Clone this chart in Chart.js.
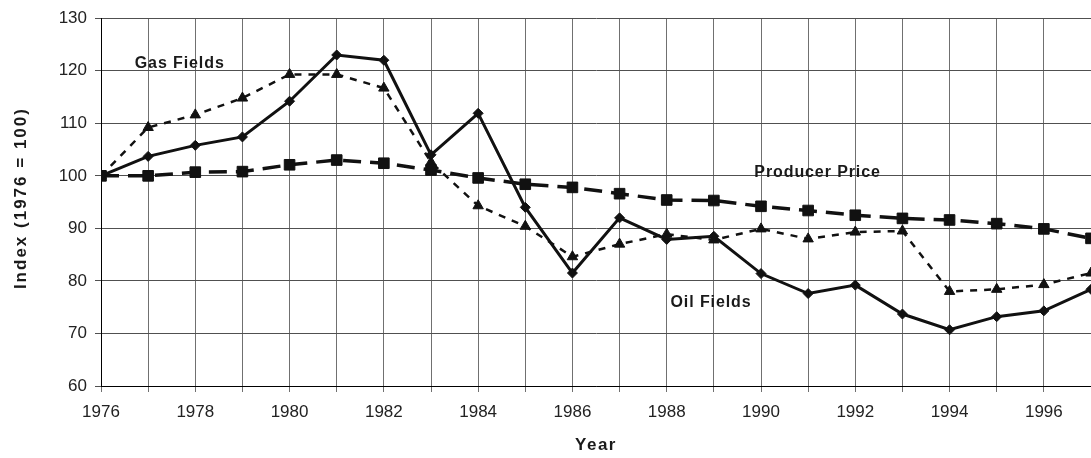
<!DOCTYPE html>
<html>
<head>
<meta charset="utf-8">
<script src="https://cdn.jsdelivr.net/npm/chart.js@4.4.1/dist/chart.umd.min.js"></script>
<style>
    html, body { margin: 0; padding: 0; background: #fff; }
    #wrap { width: 1091px; height: 458px; }
</style>
</head>
<body>
<div id="wrap"><canvas id="myChart" width="1091" height="458"></canvas></div>
<script>
// Datos
const years = [1976, 1977, 1978, 1979, 1980, 1981, 1982, 1983, 1984, 1985, 1986,
               1987, 1988, 1989, 1990, 1991, 1992, 1993, 1994, 1995, 1996, 1997];
const oilFields = [100, 103.7, 105.8, 107.4, 114.2, 123.0, 122.0, 104.0, 111.9, 94.0, 81.5,
                   92.0, 87.9, 88.5, 81.4, 77.6, 79.2, 73.7, 70.7, 73.2, 74.3, 78.4];
const gasFields = [100, 109.2, 111.6, 114.8, 119.3, 119.3, 116.7, 102.6, 94.3, 90.4, 84.6,
                   87.0, 88.9, 87.8, 89.9, 88.0, 89.3, 89.5, 78.0, 78.4, 79.3, 81.5];
const producerPrice = [100, 100, 100.7, 100.8, 102.1, 103.0, 102.4, 101.1, 99.6, 98.4, 97.8,
                       96.6, 95.4, 95.3, 94.2, 93.4, 92.5, 91.9, 91.6, 90.9, 89.9, 88.1];

// Etiquetas dentro del gráfico (texto, año, valor)
const labelTexts = ['Gas Fields', 'Producer Price', 'Oil Fields'];
const labelYears = [1977.67, 1991.2, 1988.94];
const labelValues = [121.4, 100.7, 75.8];

const xTitle = 'Year';
const yTitle = 'Index (1976 = 100)';

const FONT = "'Liberation Sans', Arial, sans-serif";

function toPoints(values) {
    return values.map((v, i) => ({ x: years[i], y: v }));
}

// Plugin para los nombres de las series y los títulos de los ejes
const seriesLabels = {
    id: 'seriesLabels',
    afterDraw(chart) {
        const ctx = chart.ctx;
        const xs = chart.scales.x, ys = chart.scales.y;
        const area = chart.chartArea;
        ctx.save();
        ctx.fillStyle = '#1a1a1a';
        ctx.textAlign = 'center';
        ctx.textBaseline = 'middle';
        ctx.font = 'bold 16px ' + FONT;
        ctx.letterSpacing = '0.9px';
        labelTexts.forEach((t, i) => {
            ctx.fillText(t, xs.getPixelForValue(labelYears[i]), ys.getPixelForValue(labelValues[i]));
        });

        // títulos de ejes
        ctx.font = 'bold 17px ' + FONT;
        ctx.letterSpacing = '1.5px';
        ctx.fillText(xTitle, (area.left + area.right) / 2, 445);
        ctx.letterSpacing = '2px';
        ctx.translate(21, (area.top + area.bottom) / 2 - 4);
        ctx.rotate(-Math.PI / 2);
        ctx.fillText(yTitle, 0, 0);
        ctx.restore();
    }
};

var ctx = document.getElementById('myChart').getContext('2d');
var myChart = new Chart(ctx, {
    type: 'line',
    data: {
        datasets: [{
            label: 'Oil Fields',
            data: toPoints(oilFields),
            borderColor: '#111',
            backgroundColor: '#111',
            borderWidth: 3,
            pointStyle: 'rectRot',
            pointRadius: 5,
            pointBorderWidth: 1,
            tension: 0,
            order: 0
        }, {
            label: 'Producer Price',
            data: toPoints(producerPrice),
            borderColor: '#111',
            backgroundColor: '#111',
            borderWidth: 3.5,
            borderDash: [18, 9],
            pointStyle: 'rect',
            pointRadius: 7.5,
            pointBorderWidth: 1,
            tension: 0,
            order: 1
        }, {
            label: 'Gas Fields',
            data: toPoints(gasFields),
            borderColor: '#111',
            backgroundColor: '#111',
            borderWidth: 2.5,
            borderDash: [7, 7],
            pointStyle: 'triangle',
            pointRadius: 6,
            pointBorderWidth: 1,
            tension: 0,
            order: 2
        }]
    },
    options: {
        responsive: false,
        animation: false,
        layout: { autoPadding: false, padding: { top: 16, right: 0, left: 0, bottom: 0 } },
        plugins: {
            legend: { display: false },
            tooltip: { enabled: false }
        },
        scales: {
            x: {
                type: 'linear',
                min: 1976,
                max: 1997,
                afterFit: (scale) => {
                    scale.height = 72;
                    scale.paddingRight = 0;
                    scale.paddingLeft = 0;
                },
                ticks: {
                    stepSize: 1,
                    autoSkip: false,
                    maxRotation: 0,
                    padding: 10,
                    color: '#222',
                    font: { family: FONT, size: 17 },
                    callback: (v) => (v % 2 === 0 ? String(v) : '')
                },
                grid: { color: '#707070', lineWidth: 1, tickLength: 6 },
                border: { color: '#000', width: 1 }
            },
            y: {
                min: 60,
                max: 130,
                afterFit: (scale) => { scale.width = 101; },
                ticks: {
                    stepSize: 10,
                    padding: 8,
                    color: '#222',
                    font: { family: FONT, size: 17 }
                },
                grid: { color: '#505050', lineWidth: 1, tickLength: 6 },
                border: { color: '#000', width: 1 }
            }
        }
    },
    plugins: [seriesLabels]
});
</script>
</body>
</html>
